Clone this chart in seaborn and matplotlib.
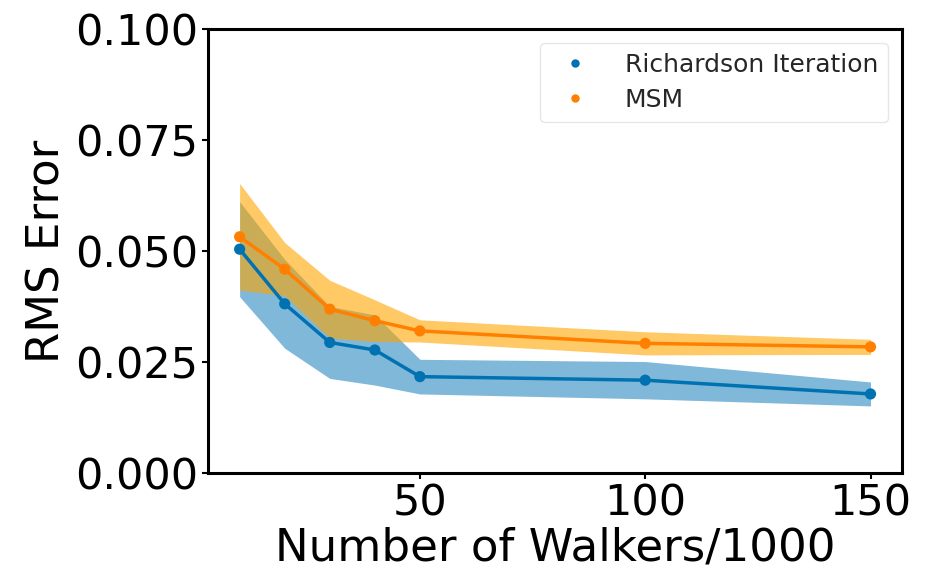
import numpy as np
import pandas as pd
import matplotlib
matplotlib.use("Agg")
import matplotlib.pyplot as plt
import seaborn as sns

# Number of walkers (thousands)
walkers = [10, 20, 30, 40, 50, 100, 150]

# RMS error, mean and spread for each method
richardson_mean = [0.0504, 0.0381, 0.0294, 0.0277, 0.0217, 0.0209, 0.0178]
richardson_std = [0.0107, 0.0100, 0.0081, 0.0079, 0.0039, 0.0042, 0.0027]
msm_mean = [0.0532, 0.0459, 0.0369, 0.0343, 0.0320, 0.0292, 0.0284]
msm_std = [0.0120, 0.0060, 0.0065, 0.0047, 0.0025, 0.0026, 0.0017]

methods = ["Richardson Iteration", "MSM"]
line_colors = ["#0072B2", "#FF8000"]
band_colors = ["#0072B2", "#FFA500"]
band_alpha = [0.5, 0.6]

df = pd.DataFrame({
    "walkers": walkers * 2,
    "rms": richardson_mean + msm_mean,
    "method": [methods[0]] * len(walkers) + [methods[1]] * len(walkers),
})

sns.set_style("ticks")
plt.rcParams["font.family"] = ["DejaVu Sans"]

fig = plt.figure(figsize=(9.29, 5.74), dpi=100)
ax = fig.add_axes([0.224, 0.176, 0.747, 0.7735])

means = [richardson_mean, msm_mean]
stds = [richardson_std, msm_std]
for m, mu, sd, bc, al in zip(methods, means, stds, band_colors, band_alpha):
    mu = np.array(mu)
    sd = np.array(sd)
    ax.fill_between(walkers, mu - sd, mu + sd, color=bc, alpha=al, linewidth=0)

palette = dict(zip(methods, line_colors))
sns.lineplot(data=df, x="walkers", y="rms", hue="method", palette=palette,
             linewidth=2.5, legend=False, ax=ax)
sns.scatterplot(data=df, x="walkers", y="rms", hue="method", palette=palette,
                s=65, edgecolor="none", ax=ax, zorder=5)

ax.set_ylim(0, 0.1)
ax.set_xlim(3, 157)
ax.set_xticks([50, 100, 150])
ax.set_yticks([0.0, 0.025, 0.05, 0.075, 0.1])
ax.set_yticklabels(["0.000", "0.025", "0.050", "0.075", "0.100"])
ax.tick_params(labelsize=31, colors="black", width=1.5, length=4, pad=3)
ax.set_xlabel("Number of Walkers/1000", fontsize=32.5, color="black", labelpad=1)
ax.set_ylabel("RMS Error", fontsize=32.5, color="black", labelpad=5)
for sp in ax.spines.values():
    sp.set_color("black")
    sp.set_linewidth(2.2)

leg = ax.legend(loc="upper right", fontsize=18, frameon=True, handletextpad=1.0,
                markerscale=0.75, borderaxespad=0.55, borderpad=0.4,
                labelspacing=0.45)
leg.get_frame().set_edgecolor("#e0e0e0")
for t in leg.get_texts():
    t.set_color("#262626")

fig.savefig("out.png", dpi=100)
